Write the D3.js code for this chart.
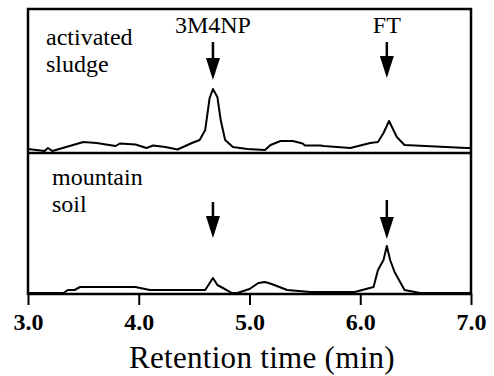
<!doctype html>
<html>
  <head>
    <meta charset="utf-8">
    <title>Chromatograms</title>
    <script src="https://cdnjs.cloudflare.com/ajax/libs/d3/7.8.5/d3.min.js"></script>
    <style>
      body { margin: 0; background: #fff; }
      text { font-family: "Liberation Serif", "Times New Roman", serif; fill: #000; }
    </style>
  </head>
  <body>
    <div id="chart"></div>
    <script>
      // retention time (min) and detector signal (arbitrary units)
      const sludgeTime = [3.00, 3.15, 3.18, 3.22, 3.50, 3.62, 3.79, 3.83, 3.97, 4.07, 4.13, 4.24, 4.35, 4.40,
        4.48, 4.55, 4.60, 4.64, 4.67, 4.71, 4.74, 4.78, 4.85, 4.98, 5.14, 5.19, 5.28, 5.39, 5.48, 5.50,
        5.64, 5.67, 5.91, 6.09, 6.16, 6.21, 6.26, 6.33, 6.40, 6.96, 7.00];
      const sludgeSignal = [4, 2, 5, 2, 11, 10, 7, 9.5, 8.5, 5, 7.5, 6, 3.5, 6,
        10, 13, 23, 55, 64, 56, 33, 13, 6, 4, 3, 8, 12, 12, 9.5, 7.5,
        7.5, 7, 5, 10, 11, 20, 32, 16, 8, 5, 5];

      const soilTime = [3.00, 3.32, 3.36, 3.42, 3.47, 3.97, 4.10, 4.60, 4.67, 4.71, 4.76, 4.84, 4.89,
        5.00, 5.08, 5.14, 5.20, 5.34, 5.55, 5.95, 6.12, 6.16, 6.21, 6.24, 6.27, 6.31, 6.40, 6.54, 7.00];
      const soilSignal = [1, 1, 4, 4, 7, 7, 4, 4, 16, 9, 6, 1, 1,
        5, 11, 12, 10, 4, 2, 2, 7, 24, 34, 48, 34, 22, 4, 1, 1];

      const sampleNames = [["activated", "sludge"], ["mountain", "soil"]];
      const peakNames = ["3M4NP", "FT"];
      const peakTimes = [4.67, 6.24];
      const xTicks = [3, 4, 5, 6, 7];

      const width = 494, height = 376;
      const left = 28, right = 471;
      const panelTops = [9, 153], panelBottoms = [153, 294];

      const svg = d3.select('#chart').append('svg')
        .attr('width', width)
        .attr('height', height);

      const x = d3.scaleLinear().domain([3, 7]).range([left, right]);
      // one y scale per panel, same units
      const yTop = d3.scaleLinear().domain([0, 144]).range([panelBottoms[0], panelTops[0]]);
      const yBot = d3.scaleLinear().domain([0, 141]).range([panelBottoms[1], panelTops[1]]);

      const series = [
        { y: yTop, pts: sludgeTime.map((t, i) => [t, sludgeSignal[i]]) },
        { y: yBot, pts: soilTime.map((t, i) => [t, soilSignal[i]]) }
      ];

      // traces
      series.forEach(s => {
        const line = d3.line().x(d => x(d[0])).y(d => s.y(d[1]));
        svg.append('path')
          .attr('d', line(s.pts))
          .attr('fill', 'none')
          .attr('stroke', '#000')
          .attr('stroke-width', 2)
          .attr('stroke-linejoin', 'round');
      });

      // frames
      svg.append('rect')
        .attr('x', left).attr('y', panelTops[0])
        .attr('width', right - left).attr('height', panelBottoms[1] - panelTops[0])
        .attr('fill', 'none').attr('stroke', '#000').attr('stroke-width', 2.5);
      svg.append('line')
        .attr('x1', left).attr('x2', right)
        .attr('y1', panelBottoms[0]).attr('y2', panelBottoms[0])
        .attr('stroke', '#000').attr('stroke-width', 2.5);

      // x axis
      const axis = svg.append('g')
        .attr('transform', `translate(0,${panelBottoms[1]})`)
        .call(d3.axisBottom(x).tickValues(xTicks).tickFormat(d3.format('.1f')).tickSize(11).tickSizeOuter(0));
      axis.select('.domain').remove();
      axis.selectAll('line').attr('stroke', '#000').attr('stroke-width', 2);
      axis.selectAll('text')
        .attr('y', 0).attr('dy', null)
        .attr('transform', 'translate(0,36)')
        .style('font-family', '"Liberation Serif", serif')
        .style('font-size', '24px')
        .style('font-weight', 'bold');

      svg.append('text')
        .attr('x', 262).attr('y', 368)
        .attr('text-anchor', 'middle')
        .style('font-size', '31px')
        .style('letter-spacing', '0.3px')
        .text('Retention time (min)');

      // sample names
      const namePos = [[46, 45], [52, 185]];
      sampleNames.forEach((lines, i) => {
        lines.forEach((t, j) => {
          svg.append('text')
            .attr('x', namePos[i][0]).attr('y', namePos[i][1] + j * 27)
            .style('font-size', '24px')
            .text(t);
        });
      });

      // peak labels
      peakNames.forEach((n, i) => {
        svg.append('text')
          .attr('x', x(peakTimes[i])).attr('y', 33)
          .attr('text-anchor', 'middle')
          .style('font-size', '24px')
          .text(n);
      });

      // arrows: [panel, time, tail signal, tip signal]
      const arrows = [
        [0, peakTimes[0], 111, 73],
        [0, peakTimes[1], 111, 75],
        [1, peakTimes[0], 92, 56],
        [1, peakTimes[1], 94, 55]
      ];
      arrows.forEach(a => {
        const ys = a[0] === 0 ? yTop : yBot;
        const ax = x(a[1]), y0 = ys(a[2]), y1 = ys(a[3]);
        svg.append('line')
          .attr('x1', ax).attr('x2', ax)
          .attr('y1', y0).attr('y2', y1 - 10)
          .attr('stroke', '#000').attr('stroke-width', 2.5);
        svg.append('path')
          .attr('d', `M${ax - 7},${y1 - 22} L${ax + 7},${y1 - 22} L${ax},${y1} Z`)
          .attr('fill', '#000');
      });
    </script>
  </body>
</html>
